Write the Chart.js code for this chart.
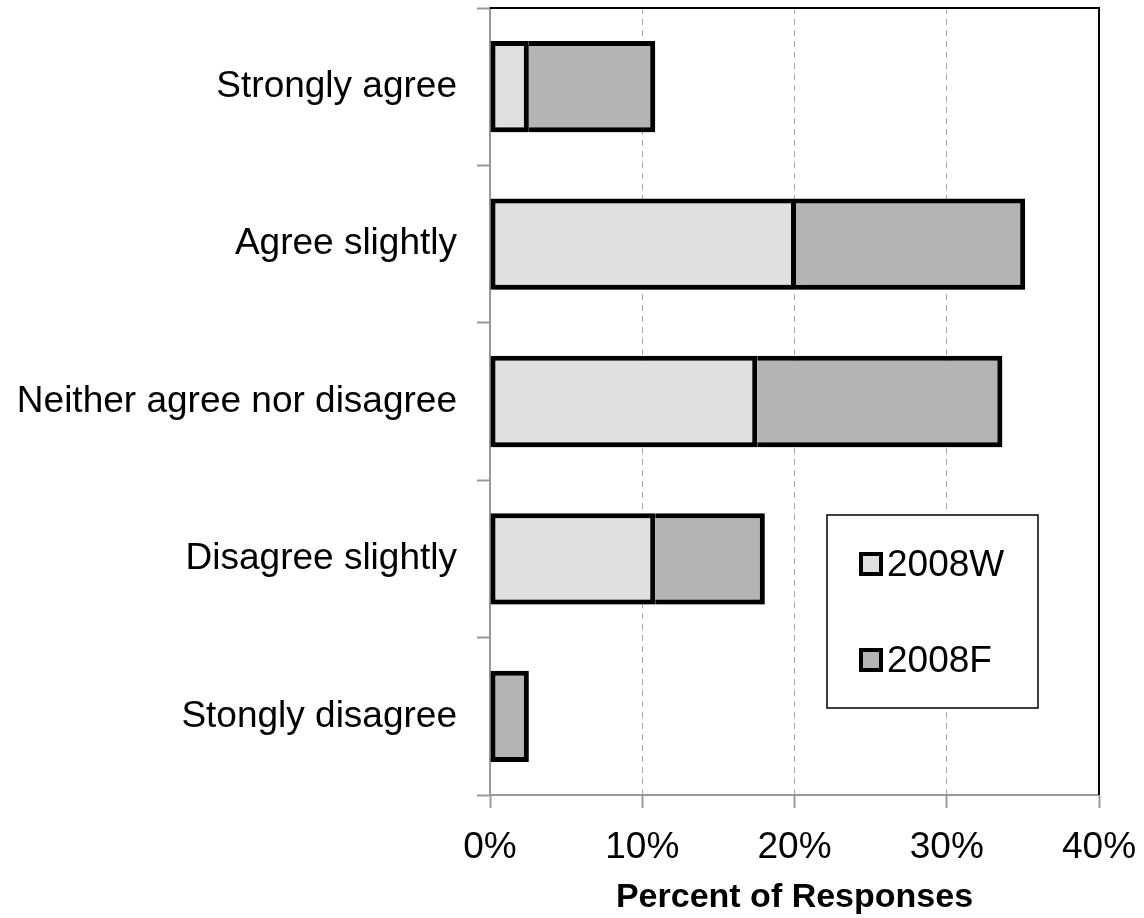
<!DOCTYPE html>
<html>
<head>
<meta charset="utf-8">
<title>Percent of Responses</title>
<script src="https://cdn.jsdelivr.net/npm/chart.js@4.4.1/dist/chart.umd.min.js"></script>
<style>
    html, body { margin: 0; padding: 0; background: #ffffff; }
    #wrap { width: 1144px; height: 918px; }
</style>
</head>
<body>
<div id="wrap"><canvas id="respChart"></canvas></div>
<script>
// ---- chart data ----
const categories = ['Strongly agree', 'Agree slightly', 'Neither agree nor disagree', 'Disagree slightly', 'Stongly disagree'];
const series2008W = [2.55, 20.1, 17.55, 10.85, 0];
const series2008F = [8.3, 15.05, 16.1, 7.2, 2.55];
const xTicks = [0, 10, 20, 30, 40];

const FONT = '"Liberation Sans", Arial, Helvetica, sans-serif';
const BW = 5;

// bar shadow + frame (top / right borders) + in-plot legend
const decorPlugin = {
    id: 'decor',
    beforeDatasetsDraw(chart) {
        const ctx = chart.ctx;
        ctx.save();
        ctx.shadowColor = 'rgba(0,0,0,0.35)';
        ctx.shadowBlur = 5;
        ctx.shadowOffsetX = 2;
        ctx.shadowOffsetY = 3;
    },
    afterDatasetsDraw(chart) {
        chart.ctx.restore();
    },
    afterDraw(chart) {
        const ctx = chart.ctx;
        const a = chart.chartArea;
        ctx.save();
        ctx.strokeStyle = '#000';
        ctx.lineWidth = 2;
        ctx.beginPath();
        ctx.moveTo(a.left, a.top);
        ctx.lineTo(a.right, a.top);
        ctx.lineTo(a.right, a.bottom);
        ctx.stroke();

        // legend box
        const lx = 827, ly = 515, lw = 211, lh = 193;
        ctx.fillStyle = '#fff';
        ctx.fillRect(lx, ly, lw, lh);
        ctx.lineWidth = 1.5;
        ctx.strokeStyle = '#000';
        ctx.strokeRect(lx, ly, lw, lh);

        ctx.font = '37px ' + FONT;
        ctx.textBaseline = 'middle';
        chart.data.datasets.forEach(function(ds, i) {
            const cy = 564 + i * 96;
            ctx.fillStyle = '#000';
            ctx.fillRect(859, cy - 12, 24, 24);
            ctx.fillStyle = ds.backgroundColor;
            ctx.fillRect(863, cy - 8, 16, 16);
            ctx.fillStyle = '#000';
            ctx.fillText(ds.label, 887, cy + 2);
        });
        ctx.restore();
    }
};

function borderFor(isFirst) {
    return function(c) {
        const i = c.dataIndex;
        if (isFirst) {
            return { top: BW, bottom: BW, left: BW, right: BW };
        }
        // second segment shares the divider with the first one
        const left = series2008W[i] > 0 ? 0 : BW;
        return { top: BW, bottom: BW, left: left, right: BW };
    };
}

const ctx = document.getElementById('respChart').getContext('2d');
const respChart = new Chart(ctx, {
    type: 'bar',
    data: {
        labels: categories,
        datasets: [
            {
                label: '2008W',
                data: series2008W,
                backgroundColor: '#e0e0e0',
                borderColor: '#000',
                borderWidth: borderFor(true),
                borderSkipped: false
            },
            {
                label: '2008F',
                data: series2008F,
                backgroundColor: '#b4b4b4',
                borderColor: '#000',
                borderWidth: borderFor(false),
                borderSkipped: false
            }
        ]
    },
    options: {
        indexAxis: 'y',
        responsive: true,
        maintainAspectRatio: false,
        animation: false,
        categoryPercentage: 1,
        barPercentage: 0.58,
        layout: { padding: { top: 8, right: 45, bottom: 0, left: 0 } },
        plugins: {
            legend: { display: false },
            tooltip: { enabled: false }
        },
        scales: {
            x: {
                stacked: true,
                min: 0,
                max: 40,
                afterBuildTicks: function(scale) {
                    scale.ticks = xTicks.map(function(v) { return { value: v }; });
                },
                afterFit: function(scale) {
                    scale.height = 123;
                    scale.paddingLeft = 0;
                    scale.paddingRight = 0;
                },
                ticks: {
                    color: '#000',
                    font: { family: FONT, size: 37 },
                    padding: 18,
                    maxRotation: 0,
                    callback: function(value) { return value + '%'; }
                },
                grid: {
                    color: '#aaaaaa',
                    lineWidth: 1,
                    drawTicks: true,
                    tickLength: 13,
                    tickColor: '#999999',
                    tickWidth: 2
                },
                border: { display: true, color: '#999999', width: 2, dash: [6, 5] },
                title: {
                    display: true,
                    text: 'Percent of Responses',
                    color: '#000',
                    font: { family: FONT, size: 34, weight: 'bold' },
                    padding: { top: 0, bottom: 0 }
                }
            },
            y: {
                stacked: true,
                afterFit: function(scale) {
                    scale.width = 490;
                    scale.paddingTop = 0;
                    scale.paddingBottom = 0;
                },
                ticks: {
                    color: '#000',
                    font: { family: FONT, size: 37 },
                    padding: 20
                },
                grid: {
                    offset: true,
                    drawOnChartArea: false,
                    drawTicks: true,
                    tickLength: 13,
                    tickColor: '#999999',
                    tickWidth: 2
                },
                border: { display: true, color: '#999999', width: 2 }
            }
        }
    },
    plugins: [decorPlugin]
});
</script>
</body>
</html>
